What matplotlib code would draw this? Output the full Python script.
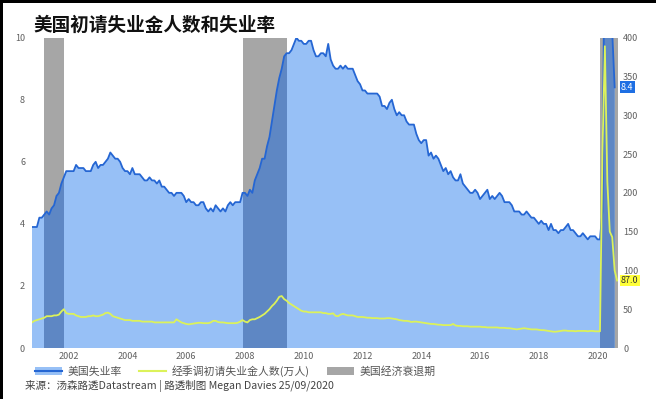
import numpy as np
import matplotlib
matplotlib.use("Agg")
import matplotlib.pyplot as plt
from matplotlib.patches import Rectangle, Patch
from matplotlib.lines import Line2D

plt.rcParams['font.family'] = ['Noto Sans CJK SC', 'DejaVu Sans']

# ---------------- data ----------------
start_year = 2000.75  # Oct 2000, monthly data

# US unemployment rate (%), Oct 2000 - Aug 2020
unemp_rate = [
    3.9, 3.9, 3.9,
    4.2, 4.2, 4.3, 4.4, 4.3, 4.5, 4.6, 4.9, 5.0, 5.3, 5.5, 5.7,
    5.7, 5.7, 5.7, 5.9, 5.8, 5.8, 5.8, 5.7, 5.7, 5.7, 5.9, 6.0,
    5.8, 5.9, 5.9, 6.0, 6.1, 6.3, 6.2, 6.1, 6.1, 6.0, 5.8, 5.7,
    5.7, 5.6, 5.8, 5.6, 5.6, 5.6, 5.5, 5.4, 5.4, 5.5, 5.4, 5.4,
    5.3, 5.4, 5.2, 5.2, 5.1, 5.0, 5.0, 4.9, 5.0, 5.0, 5.0, 4.9,
    4.7, 4.8, 4.7, 4.7, 4.6, 4.6, 4.7, 4.7, 4.5, 4.4, 4.5, 4.4,
    4.6, 4.5, 4.4, 4.5, 4.4, 4.6, 4.7, 4.6, 4.7, 4.7, 4.7, 5.0,
    5.0, 4.9, 5.1, 5.0, 5.4, 5.6, 5.8, 6.1, 6.1, 6.5, 6.8, 7.3,
    7.8, 8.3, 8.7, 9.0, 9.4, 9.5, 9.5, 9.6, 9.8, 10.0, 9.9, 9.9,
    9.8, 9.8, 9.9, 9.9, 9.6, 9.4, 9.4, 9.5, 9.5, 9.4, 9.8, 9.3,
    9.1, 9.0, 9.0, 9.1, 9.0, 9.1, 9.0, 9.0, 9.0, 8.8, 8.6, 8.5,
    8.3, 8.3, 8.2, 8.2, 8.2, 8.2, 8.2, 8.1, 7.8, 7.8, 7.7, 7.9,
    8.0, 7.7, 7.5, 7.6, 7.5, 7.5, 7.3, 7.2, 7.2, 7.2, 6.9, 6.7,
    6.6, 6.7, 6.7, 6.2, 6.3, 6.1, 6.2, 6.1, 5.9, 5.7, 5.8, 5.6,
    5.7, 5.5, 5.4, 5.4, 5.6, 5.3, 5.2, 5.1, 5.0, 5.0, 5.1, 5.0,
    4.8, 4.9, 5.0, 5.1, 4.8, 4.9, 4.8, 4.9, 5.0, 4.9, 4.7, 4.7,
    4.7, 4.6, 4.4, 4.4, 4.4, 4.3, 4.3, 4.4, 4.3, 4.2, 4.2, 4.1,
    4.0, 4.1, 4.0, 4.0, 3.8, 4.0, 3.8, 3.8, 3.7, 3.8, 3.8, 3.9,
    4.0, 3.8, 3.8, 3.7, 3.6, 3.6, 3.7, 3.6, 3.5, 3.6, 3.6, 3.6,
    3.5, 3.5, 4.4, 14.7, 13.3, 11.1, 10.2, 8.4,
]

# Seasonally adjusted initial jobless claims (10k persons), Oct 2000 - Sep 2020
claims = [
    33, 35, 36,
    37, 38, 39, 41, 41, 41, 42, 42, 43, 47, 50, 45,
    44, 44, 44, 42, 41, 40, 40, 40, 41, 41, 42, 41,
    41, 42, 43, 45, 45.6, 44, 41, 40, 39, 38, 37, 36,
    36, 36, 35, 35, 35, 35, 34, 34, 34, 34, 34, 33,
    33, 33, 33, 33, 33, 33, 33, 33, 37, 35, 33, 32,
    31, 30.5, 31, 31.5, 32, 32.5, 32.5, 32, 32, 32, 33, 35,
    35, 33.5, 33, 33, 32.5, 32, 32, 32, 32, 32.5, 34, 36,
    34, 33, 36, 37, 37, 38.5, 40, 42, 44, 47, 50, 54,
    57, 61, 66, 67, 63, 61, 58, 56, 54, 52, 50, 48,
    47, 47, 46, 46, 46, 46, 46, 46, 45, 45, 44, 44,
    44.7, 41.5, 41, 43, 44, 43, 42, 42, 42, 41, 40, 40,
    40, 39.5, 39, 39, 38.5, 38.5, 38.5, 38, 38, 38, 38.5, 38.5,
    38, 37.5, 37, 36, 35.5, 35, 35, 34.5, 33.5, 34, 34, 33.5,
    33, 32.5, 32, 31.5, 31, 31, 30.5, 30, 30, 29.5, 29.5, 29.5,
    29.5, 31, 29, 28.5, 28.5, 28, 28, 28, 27.5, 27.5, 27.5, 27.5,
    27.5, 27, 27, 26.5, 26.5, 26.5, 26.5, 26.5, 26, 26, 26, 25.5,
    25.5, 25, 24.5, 24, 24.5, 25, 25.5, 25, 24.5, 24, 24, 24,
    23.5, 23, 23, 22.5, 22, 21.5, 21, 21, 21.5, 22, 22.5, 22.5,
    22, 22, 22, 21.5, 22, 22, 22, 22, 21.5, 22, 22, 21.5,
    21.5, 21.5, 250, 389, 215, 150, 143, 100, 87,
]

# Recessions (start, end) in decimal years
recessions = [(2001.167, 2001.833), (2007.917, 2009.417), (2020.083, 2020.70)]

x_ticks = list(range(2002, 2021, 2))
left_ticks = [0, 2, 4, 6, 8, 10]
right_ticks = list(range(0, 401, 50))

title = "美国初请失业金人数和失业率"
legend_labels = ["美国失业率", "经季调初请失业金人数(万人)", "美国经济衰退期"]
source = "来源：汤森路透Datastream | 路透制图 Megan Davies 25/09/2020"
last_rate_label = "8.4"
last_claims_label = "87.0"

# ---------------- styling ----------------
c_fill = '#97c0f6'
c_fill_dark = '#5e87c4'
c_line = '#2566d3'
c_gray = '#a6a6a6'
c_yellow = '#dcf25a'
c_tick = '#606060'

x_u = start_year + np.arange(len(unemp_rate)) / 12.0
x_c = start_year + np.arange(len(claims)) / 12.0

fig = plt.figure(figsize=(6.56, 3.99), dpi=100)
ax = fig.add_axes([32 / 656, 1 - 348 / 399, 585.5 / 656, 310.3 / 399])
ax.set_xlim(2000.75, 2020.68)
ax.set_ylim(0, 10)

for (s, e) in recessions:
    ax.axvspan(s, e, color=c_gray, lw=0, zorder=0)

ax.fill_between(x_u, unemp_rate, 0, color=c_fill, lw=0, zorder=1)
for (s, e) in recessions:
    dark = ax.fill_between(x_u, unemp_rate, 0, color=c_fill_dark, lw=0, zorder=1.5)
    clip = Rectangle((s, 0), e - s, 10, transform=ax.transData)
    dark.set_clip_path(clip)
ax.plot(x_u, unemp_rate, color=c_line, lw=1.3, zorder=3)

ax2 = ax.twinx()
ax2.set_ylim(0, 400)
ax2.plot(x_c, claims, color=c_yellow, lw=1.3, zorder=4)

for a in (ax, ax2):
    for sp in a.spines.values():
        sp.set_visible(False)
    a.tick_params(length=0, labelsize=6.5, labelcolor=c_tick)

ax.set_xticks(x_ticks)
ax.set_xticklabels([str(t) for t in x_ticks])
ax.tick_params(axis='x', pad=3)
ax.set_yticks(left_ticks)
ax.tick_params(axis='y', pad=5)
ax2.set_yticks(right_ticks)
ax2.tick_params(axis='y', pad=4)

# last value labels
ax.text(1.006, 8.4, last_rate_label, transform=ax.get_yaxis_transform(),
        fontsize=6.5, color='white', va='center', ha='left',
        bbox=dict(boxstyle='square,pad=0.15', fc='#1e6fe3', ec='none'), zorder=6)
ax2.text(1.006, 87.0, last_claims_label, transform=ax2.get_yaxis_transform(),
         fontsize=6.5, color='#333333', va='center', ha='left',
         bbox=dict(boxstyle='square,pad=0.15', fc='#ffff3a', ec='none'), zorder=6)

# title
fig.text(33 / 656, 1 - 25 / 399, title, fontsize=13.4, fontweight='bold',
         color='#111111', va='center', ha='left')

# legend
h1 = (Patch(color=c_fill, lw=0), Line2D([], [], color=c_line, lw=1.5))
h2 = Line2D([], [], color=c_yellow, lw=1.5)
h3 = Patch(color=c_gray, lw=0)
leg = fig.legend([h1, h2, h3], legend_labels, ncol=3, frameon=False,
                 loc='center left', bbox_to_anchor=(35 / 656, 1 - 371 / 399),
                 fontsize=7.8, handlelength=2.5, handleheight=0.8,
                 handletextpad=0.5, columnspacing=1.6, borderpad=0, borderaxespad=0)
for t in leg.get_texts():
    t.set_color('#555555')

fig.text(25 / 656, 1 - 386 / 399, source, fontsize=7.6, color='#444444',
         va='center', ha='left')

# black frame on top and left
fig.add_artist(Rectangle((0, 1 - 3 / 399), 1, 3 / 399, transform=fig.transFigure,
                         color='black', lw=0))
fig.add_artist(Rectangle((0, 0), 3 / 656, 1, transform=fig.transFigure,
                         color='black', lw=0))

fig.savefig('out.png', dpi=100)
